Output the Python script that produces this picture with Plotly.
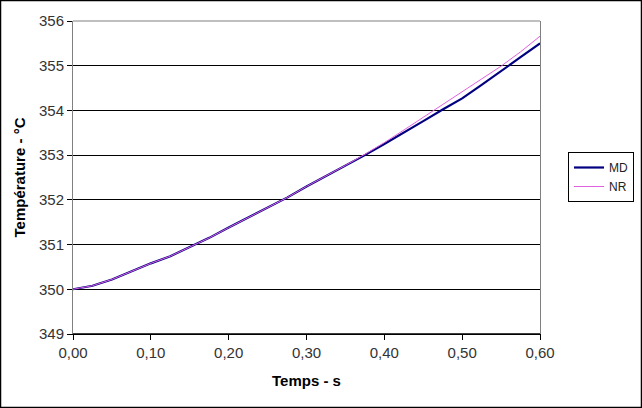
import plotly.graph_objects as go

t_md = [0.0, 0.025, 0.05, 0.075, 0.10, 0.125, 0.15, 0.175, 0.20, 0.225, 0.25, 0.275,
        0.30, 0.325, 0.35, 0.375, 0.40, 0.425, 0.45, 0.475, 0.50, 0.525, 0.55, 0.575, 0.60]
md = [350.0, 350.08, 350.22, 350.4, 350.58, 350.74, 350.95, 351.15, 351.38, 351.6, 351.82, 352.05,
      352.3, 352.53, 352.76, 353.0, 353.25, 353.5, 353.76, 354.02, 354.27, 354.57, 354.89, 355.19, 355.5]

t_nr = [0.0, 0.025, 0.05, 0.075, 0.10, 0.125, 0.15, 0.175, 0.20, 0.225, 0.25, 0.275,
        0.30, 0.325, 0.35, 0.375, 0.40, 0.425, 0.45, 0.475, 0.50, 0.525, 0.55, 0.575, 0.60]
nr = [350.0, 350.08, 350.22, 350.4, 350.58, 350.74, 350.95, 351.15, 351.38, 351.6, 351.82, 352.05,
      352.3, 352.53, 352.77, 353.02, 353.28, 353.56, 353.85, 354.13, 354.42, 354.7, 354.99, 355.31, 355.66]

x_ticks = [0.0, 0.1, 0.2, 0.3, 0.4, 0.5, 0.6]
y_ticks = [349, 350, 351, 352, 353, 354, 355, 356]

W, H = 642, 408
L, R, T, B = 73, 102, 21, 74
pw, ph = W - L - R, H - T - B

FAM = "Liberation Sans, Arial, sans-serif"

fig = go.Figure()
fig.add_trace(go.Scatter(x=t_md, y=md, mode="lines", name="MD",
                         line=dict(color="#000080", width=2.2)))
fig.add_trace(go.Scatter(x=t_nr, y=nr, mode="lines", name="NR",
                         line=dict(color="#e060e0", width=1)))

def px_x(x):
    return (x - L) / pw

def px_y(y):
    return (H - B - y) / ph

fig.update_layout(
    width=W, height=H,
    margin=dict(l=L, r=R, t=T, b=B, autoexpand=False),
    paper_bgcolor="white", plot_bgcolor="white",
    separators=", ",
    font=dict(family=FAM, size=15, color="#333"),
    showlegend=True,
    legend=dict(xref="container", yref="container",
                x=634 / W, y=1 - 177 / H, xanchor="right", yanchor="middle",
                bordercolor="black", borderwidth=1, bgcolor="white",
                font=dict(family=FAM, size=12, color="#222"),
                tracegroupgap=0, itemwidth=30),
    xaxis=dict(range=[0, 0.6], tickvals=x_ticks, tickformat=".2f",
               showgrid=False, zeroline=False,
               showline=True, linecolor="black", linewidth=1,
               ticks="outside", ticklen=5, tickcolor="black",
               tickfont=dict(family=FAM, size=15, color="#333"),
               title=dict(text="<b>Temps - s</b>", standoff=15,
                          font=dict(family=FAM, size=15, color="black"))),
    yaxis=dict(range=[349, 356], tickvals=y_ticks,
               showgrid=True, gridcolor="black", gridwidth=1, zeroline=False,
               showline=True, linecolor="#808080", linewidth=1, mirror=True,
               ticks="outside", ticklen=5, tickcolor="black",
               tickfont=dict(family=FAM, size=15, color="#333"),
               title=dict(text="<b>Température - °C</b>", standoff=9,
                          font=dict(family=FAM, size=15, color="black"))),
    shapes=[
        dict(type="line", xref="paper", yref="paper", x0=0, x1=1, y0=1, y1=1,
             line=dict(color="#808080", width=1)),
        dict(type="line", xref="paper", yref="paper", x0=0, x1=1, y0=0, y1=0,
             line=dict(color="black", width=1.5)),
        dict(type="rect", xref="paper", yref="paper",
             x0=px_x(0.5), x1=px_x(W - 0.5),
             y0=px_y(H - 0.5), y1=px_y(0.5),
             line=dict(color="black", width=1.5)),
    ],
)

fig.write_html("out.html")
